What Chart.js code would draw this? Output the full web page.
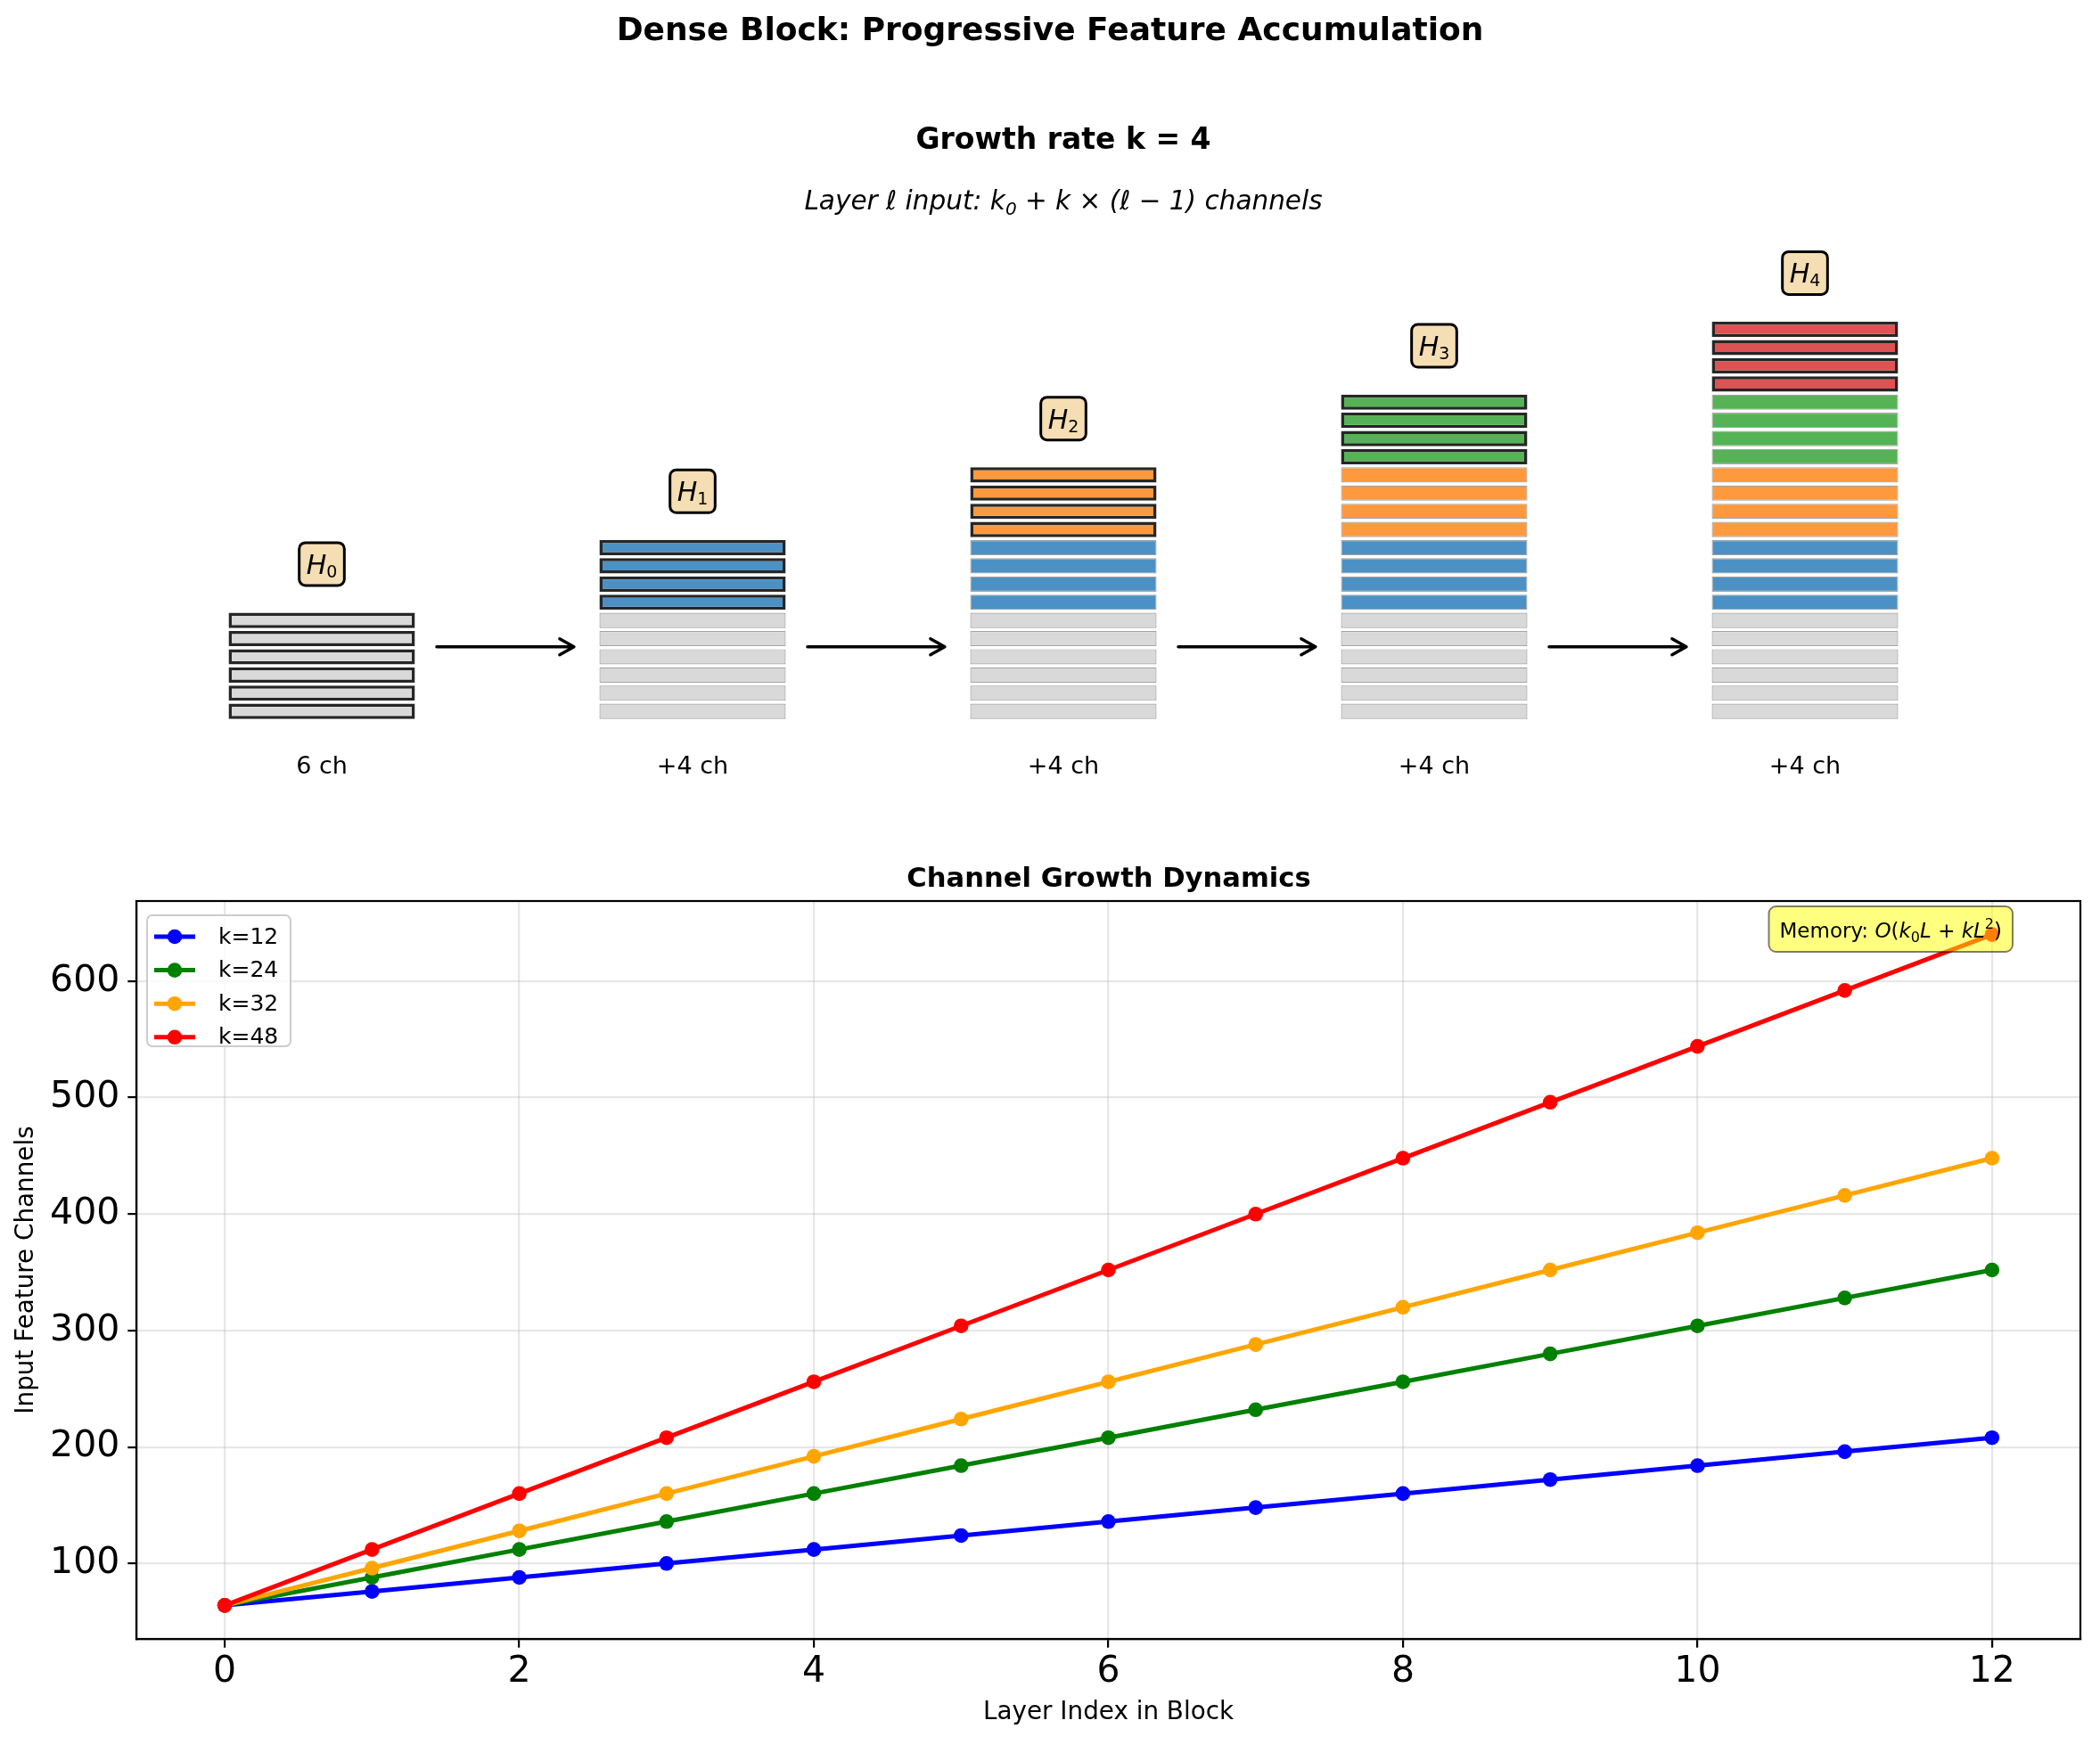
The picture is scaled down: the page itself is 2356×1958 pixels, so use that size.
<!DOCTYPE html>
<html>
<head>
<meta charset="utf-8">
<title>Dense Block: Progressive Feature Accumulation</title>
<script src="https://cdn.jsdelivr.net/npm/chart.js@4.4.0/dist/chart.umd.min.js"></script>
<style>
  html, body { margin: 0; padding: 0; background: #fff; }
  body { width: 2356px; height: 1958px; position: relative; overflow: hidden; font-family: "DejaVu Sans", sans-serif; color: #000; }
  canvas { position: absolute; left: 0; }
  #topChart { top: 0; }
  #growthChart { top: 940px; }
  .txt { position: absolute; white-space: nowrap; text-align: center; z-index: 2; }
  #suptitle { left: 0; width: 2356px; top: 11px; font-size: 36px; line-height: 44px; font-weight: bold; }
  #topTitle { left: 0; width: 2386px; top: 136px; font-size: 33px; line-height: 40px; font-weight: bold; }
  #topFormula { left: 0; width: 2386px; top: 207px; font-size: 29.5px; line-height: 36px; font-style: italic; }
  #topFormula sub { font-size: 20px; vertical-align: -6px; line-height: 0; }
  #bottomTitle { left: 0; width: 2488px; top: 966px; font-size: 30.6px; line-height: 37px; font-weight: bold; }
</style>
</head>
<body>
<div class="txt" id="suptitle">Dense Block: Progressive Feature Accumulation</div>
<div class="txt" id="topTitle">Growth rate k = 4</div>
<div class="txt" id="topFormula">Layer ℓ input: k<sub>0</sub> + k × (ℓ − 1) channels</div>
<div class="txt" id="bottomTitle">Channel Growth Dynamics</div>
<canvas id="topChart" width="2356" height="960"></canvas>
<canvas id="growthChart" width="2356" height="1018"></canvas>
<script>
// ---- top diagram data ----
const stageSubs = ['0', '1', '2', '3', '4'];
const stageChannels = [6, 4, 4, 4, 4];
const stageNotes = ['6 ch', '+4 ch', '+4 ch', '+4 ch', '+4 ch'];

// ---- growth curves data ----
const layerIndex = [0, 1, 2, 3, 4, 5, 6, 7, 8, 9, 10, 11, 12];
const seriesNames = ['k=12', 'k=24', 'k=32', 'k=48'];
const channelsK12 = [64, 76, 88, 100, 112, 124, 136, 148, 160, 172, 184, 196, 208];
const channelsK24 = [64, 88, 112, 136, 160, 184, 208, 232, 256, 280, 304, 328, 352];
const channelsK32 = [64, 96, 128, 160, 192, 224, 256, 288, 320, 352, 384, 416, 448];
const channelsK48 = [64, 112, 160, 208, 256, 304, 352, 400, 448, 496, 544, 592, 640];
const xTicks = [0, 2, 4, 6, 8, 10, 12];
const yTicks = [100, 200, 300, 400, 500, 600];

// styles
const FONT = '"DejaVu Sans", sans-serif';
const stageColors = ['#d9d9d9', '#4b91c4', '#ff993e', '#55b255', '#de5253'];
const seriesColors = ['#0000ff', '#008000', '#ffa500', '#ff0000'];

Chart.defaults.font.family = FONT;
Chart.defaults.color = '#000';

// cumulative channel count per column, and which stage owns each strip
const cumChannels = [];
let running = 0;
stageChannels.forEach(function (n) { running += n; cumChannels.push(running); });
const stripOwner = [];
stageChannels.forEach(function (n, s) { for (let j = 0; j < n; j++) stripOwner.push(s); });

const stripSets = stripOwner.map(function (s, lvl) {
    return {
        label: 'strip ' + lvl,
        stack: 'col',
        data: cumChannels.map(function (total) { return lvl < total ? [lvl + 0.08, lvl + 0.92] : null; }),
        backgroundColor: stageColors[s],
        borderColor: cumChannels.map(function (t, c) { return c === s ? '#262626' : '#a3a3a3'; }),
        borderWidth: cumChannels.map(function (t, c) { return c === s ? 3.5 : 1.2; }),
        borderSkipped: false,
        categoryPercentage: 0.5025,
        barPercentage: 1
    };
});

function roundRectPath(ctx, x, y, w, h, r) {
    ctx.beginPath();
    ctx.moveTo(x + r, y);
    ctx.lineTo(x + w - r, y);
    ctx.arcTo(x + w, y, x + w, y + r, r);
    ctx.lineTo(x + w, y + h - r);
    ctx.arcTo(x + w, y + h, x + w - r, y + h, r);
    ctx.lineTo(x + r, y + h);
    ctx.arcTo(x, y + h, x, y + h - r, r);
    ctx.lineTo(x, y + r);
    ctx.arcTo(x, y, x + r, y, r);
    ctx.closePath();
}

const diagramDecor = {
    id: 'diagramDecor',
    afterDatasetsDraw: function (chart) {
        const ctx = chart.ctx;
        const xs = chart.scales.x, ys = chart.scales.y;
        ctx.save();
        cumChannels.forEach(function (total, c) {
            const cx = xs.getPixelForValue(c);
            // H label box
            const cy = ys.getPixelForValue(total + 2.6);
            ctx.font = 'italic 30px ' + FONT;
            const wH = ctx.measureText('H').width;
            ctx.font = '19px ' + FONT;
            const wS = ctx.measureText(stageSubs[c]).width;
            const bw = wH + wS + 16, bh = 48;
            roundRectPath(ctx, cx - bw / 2, cy - bh / 2, bw, bh, 7);
            ctx.fillStyle = '#f5deb3';
            ctx.fill();
            ctx.lineWidth = 3;
            ctx.strokeStyle = '#000';
            ctx.stroke();
            ctx.fillStyle = '#000';
            ctx.textBaseline = 'alphabetic';
            ctx.textAlign = 'left';
            const tx = cx - (wH + wS) / 2;
            ctx.font = 'italic 30px ' + FONT;
            ctx.fillText('H', tx, cy + 11);
            ctx.font = '19px ' + FONT;
            ctx.fillText(stageSubs[c], tx + wH, cy + 15);
            // channel note
            ctx.font = '27px ' + FONT;
            ctx.textAlign = 'center';
            ctx.textBaseline = 'middle';
            ctx.fillText(stageNotes[c], cx, ys.getPixelForValue(-2.57));
            // arrow to next column
            if (c < cumChannels.length - 1) {
                const x1 = xs.getPixelForValue(c + 0.31);
                const x2 = xs.getPixelForValue(c + 0.68);
                const ay = ys.getPixelForValue(4.05);
                ctx.strokeStyle = '#000';
                ctx.lineWidth = 3.5;
                ctx.lineCap = 'round';
                ctx.lineJoin = 'round';
                ctx.beginPath();
                ctx.moveTo(x1, ay);
                ctx.lineTo(x2, ay);
                ctx.moveTo(x2 - 16, ay - 9);
                ctx.lineTo(x2, ay);
                ctx.lineTo(x2 - 16, ay + 9);
                ctx.stroke();
            }
        });
        ctx.restore();
    }
};

new Chart(document.getElementById('topChart'), {
    type: 'bar',
    data: { labels: stageSubs.map(function (s) { return 'H' + s; }), datasets: stripSets },
    options: {
        responsive: false,
        devicePixelRatio: 1,
        animation: false,
        layout: { padding: { left: 153, right: 123, top: 237, bottom: 70 } },
        plugins: { legend: { display: false }, tooltip: { enabled: false }, title: { display: false } },
        scales: {
            x: { display: false, stacked: true, offset: true },
            y: { display: false, stacked: false, min: -4, max: 28 }
        }
    },
    plugins: [diagramDecor]
});

// ---- bottom chart ----
const seriesData = [channelsK12, channelsK24, channelsK32, channelsK48];
const growthSets = seriesData.map(function (vals, i) {
    return {
        label: seriesNames[i],
        data: layerIndex.map(function (l, j) { return { x: l, y: vals[j] }; }),
        borderColor: seriesColors[i],
        backgroundColor: seriesColors[i],
        borderWidth: 5,
        pointRadius: 8.3,
        pointHoverRadius: 8.3,
        pointBorderWidth: 0,
        tension: 0,
        fill: false,
        order: seriesData.length - i
    };
});

const axesDecor = {
    id: 'axesDecor',
    afterDraw: function (chart) {
        const ctx = chart.ctx;
        const a = chart.chartArea;
        ctx.save();
        // legend box (upper left)
        const lx = a.left + 12, ly = a.top + 16, lw = 161, lh = 147;
        roundRectPath(ctx, lx, ly, lw, lh, 6);
        ctx.fillStyle = 'rgba(255,255,255,0.8)';
        ctx.fill();
        ctx.strokeStyle = '#cccccc';
        ctx.lineWidth = 2;
        ctx.stroke();
        seriesNames.forEach(function (name, i) {
            const ry = ly + 13 + 11 + i * 37.6;
            ctx.strokeStyle = seriesColors[i];
            ctx.lineWidth = 5;
            ctx.lineCap = 'butt';
            ctx.beginPath();
            ctx.moveTo(lx + 8, ry);
            ctx.lineTo(lx + 54, ry);
            ctx.stroke();
            ctx.fillStyle = seriesColors[i];
            ctx.beginPath();
            ctx.arc(lx + 31, ry, 8.3, 0, Math.PI * 2);
            ctx.fill();
            ctx.fillStyle = '#000';
            ctx.font = '25px ' + FONT;
            ctx.textAlign = 'left';
            ctx.textBaseline = 'middle';
            ctx.fillText(name, lx + 80, ry + 1);
        });
        // memory annotation
        const parts = [
            ['Memory: ', 'normal', 23, 0],
            ['O', 'italic', 23, 0],
            ['(', 'normal', 23, 0],
            ['k', 'italic', 23, 0],
            ['0', 'normal', 16, 5],
            ['L', 'italic', 23, 0],
            [' + ', 'normal', 23, 0],
            ['kL', 'italic', 23, 0],
            ['2', 'normal', 16, -10],
            [')', 'normal', 23, 0]
        ];
        let tw = 0;
        parts.forEach(function (p) { ctx.font = p[1] + ' ' + p[2] + 'px ' + FONT; p.push(ctx.measureText(p[0]).width); tw += p[4]; });
        const bx2 = 2258, bh = 51, by = a.top + 6;
        const bw = tw + 24;
        roundRectPath(ctx, bx2 - bw, by, bw, bh, 8);
        ctx.fillStyle = 'rgba(255,255,0,0.5)';
        ctx.fill();
        ctx.strokeStyle = 'rgba(0,0,0,0.5)';
        ctx.lineWidth = 2;
        ctx.stroke();
        let px = bx2 - bw + 12;
        const base = by + bh / 2 + 9;
        ctx.fillStyle = '#000';
        ctx.textAlign = 'left';
        ctx.textBaseline = 'alphabetic';
        parts.forEach(function (p) {
            ctx.font = p[1] + ' ' + p[2] + 'px ' + FONT;
            ctx.fillText(p[0], px, base + p[3]);
            px += p[4];
        });
        // frame
        ctx.strokeStyle = '#000';
        ctx.lineWidth = 2.2;
        ctx.strokeRect(a.left, a.top, a.right - a.left, a.bottom - a.top);
        ctx.restore();
    }
};

new Chart(document.getElementById('growthChart'), {
    type: 'line',
    data: { datasets: growthSets },
    options: {
        responsive: false,
        devicePixelRatio: 1,
        animation: false,
        layout: { padding: { left: 0, right: 22, top: 71, bottom: 0 } },
        plugins: { legend: { display: false }, tooltip: { enabled: false }, title: { display: false } },
        scales: {
            x: {
                type: 'linear',
                min: -0.6,
                max: 12.6,
                afterBuildTicks: function (s) { s.ticks = xTicks.map(function (v) { return { value: v }; }); },
                afterFit: function (s) { s.height = 119; },
                ticks: { font: { size: 41 }, color: '#000', padding: 3, maxRotation: 0 },
                grid: { color: 'rgba(176,176,176,0.3)', lineWidth: 2.2, tickColor: '#000', tickLength: 9.7, tickWidth: 2.2 },
                border: { display: true, color: '#000', width: 2.2 },
                title: { display: true, text: 'Layer Index in Block', font: { size: 27.8 }, color: '#000', padding: { top: 0, bottom: 20 } }
            },
            y: {
                type: 'linear',
                min: 35.2,
                max: 668.8,
                afterBuildTicks: function (s) { s.ticks = yTicks.map(function (v) { return { value: v }; }); },
                afterFit: function (s) { s.width = 153; },
                ticks: { font: { size: 41 }, color: '#000', padding: 9 },
                grid: { color: 'rgba(176,176,176,0.3)', lineWidth: 2.2, tickColor: '#000', tickLength: 9.7, tickWidth: 2.2 },
                border: { display: true, color: '#000', width: 2.2 },
                title: { display: true, text: 'Input Feature Channels', font: { size: 27.8 }, color: '#000', padding: { top: 13, bottom: 0 } }
            }
        }
    },
    plugins: [axesDecor]
});
</script>
</body>
</html>
